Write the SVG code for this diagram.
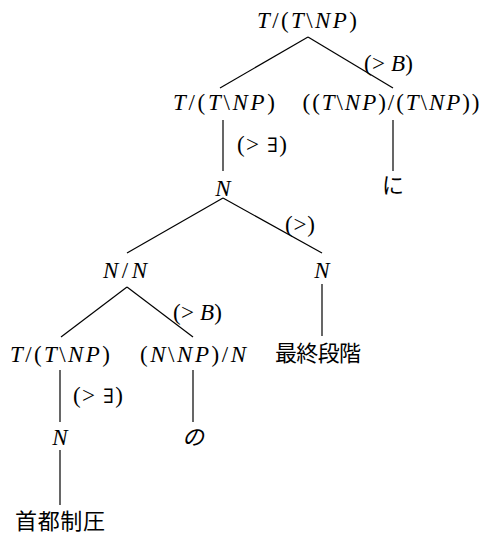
<svg xmlns="http://www.w3.org/2000/svg" width="481" height="536" viewBox="0 0 481 536">
<style>
text{font-family:"Liberation Serif","Times New Roman",serif;font-size:23px;fill:#000;text-anchor:middle}
.i{font-style:italic}
.lab{text-anchor:start}
.cjk{font-family:"Noto Sans CJK JP","Noto Sans CJK SC",sans-serif;font-size:22px}
.e{font-family:"DejaVu Serif","Liberation Serif",serif;font-size:20px}
line{stroke:#000;stroke-width:1.2}
</style>
<rect width="481" height="536" fill="#fff"/>
<g id="connectors">
<line x1="308" y1="37" x2="220" y2="88"/>
<line x1="308" y1="37" x2="393" y2="88"/>
<line x1="223" y1="120" x2="223" y2="171"/>
<line x1="393" y1="120" x2="393" y2="171"/>
<line x1="223" y1="198" x2="127" y2="253"/>
<line x1="223" y1="198" x2="322" y2="253"/>
<line x1="127" y1="287" x2="61" y2="337"/>
<line x1="127" y1="287" x2="193" y2="337"/>
<line x1="322" y1="284" x2="322" y2="336"/>
<line x1="60" y1="370" x2="60" y2="422"/>
<line x1="193" y1="370" x2="193" y2="422"/>
<line x1="60" y1="450" x2="60" y2="505"/>
<text class="lab" x="364" y="71" textLength="49" lengthAdjust="spacing">(&gt; <tspan class="i">B</tspan>)</text>
<text class="lab" x="237" y="152" textLength="50" lengthAdjust="spacing">(&gt; <tspan class="e">∃</tspan>)</text>
<text class="lab" x="285" y="232" textLength="30" lengthAdjust="spacing">(&gt;)</text>
<text class="lab" x="173" y="320" textLength="49" lengthAdjust="spacing">(&gt; <tspan class="i">B</tspan>)</text>
<text class="lab" x="73" y="403" textLength="50" lengthAdjust="spacing">(&gt; <tspan class="e">∃</tspan>)</text>
</g>
<g id="n_root"><text x="307" y="28" textLength="100" lengthAdjust="spacing"><tspan class="i">T</tspan>/(<tspan class="i">T</tspan>\<tspan class="i">NP</tspan>)</text></g>
<g id="n_tl"><text x="224" y="110" textLength="102" lengthAdjust="spacing"><tspan class="i">T</tspan>/(<tspan class="i">T</tspan>\<tspan class="i">NP</tspan>)</text></g>
<g id="n_tr"><text x="391" y="110" textLength="177" lengthAdjust="spacing">((<tspan class="i">T</tspan>\<tspan class="i">NP</tspan>)/(<tspan class="i">T</tspan>\<tspan class="i">NP</tspan>))</text></g>
<g id="n_ni"><text class="cjk" x="393" y="193">に</text></g>
<g id="n_N1"><text class="i" x="223" y="196">N</text></g>
<g id="n_NN"><text x="125" y="278" textLength="44" lengthAdjust="spacing"><tspan class="i">N</tspan>/<tspan class="i">N</tspan></text></g>
<g id="n_N2"><text class="i" x="322" y="278">N</text></g>
<g id="n_saishu"><text class="cjk" x="318" y="361" textLength="86" lengthAdjust="spacing">最終段階</text></g>
<g id="n_tll"><text x="60" y="362" textLength="100" lengthAdjust="spacing"><tspan class="i">T</tspan>/(<tspan class="i">T</tspan>\<tspan class="i">NP</tspan>)</text></g>
<g id="n_nnp"><text x="193" y="362" textLength="106" lengthAdjust="spacing">(<tspan class="i">N</tspan>\<tspan class="i">NP</tspan>)/<tspan class="i">N</tspan></text></g>
<g id="n_no"><text class="cjk i" x="193" y="445">の</text></g>
<g id="n_N3"><text class="i" x="60" y="445">N</text></g>
<g id="n_shuto"><text class="cjk" x="60" y="529" textLength="90" lengthAdjust="spacing">首都制圧</text></g>
</svg>
